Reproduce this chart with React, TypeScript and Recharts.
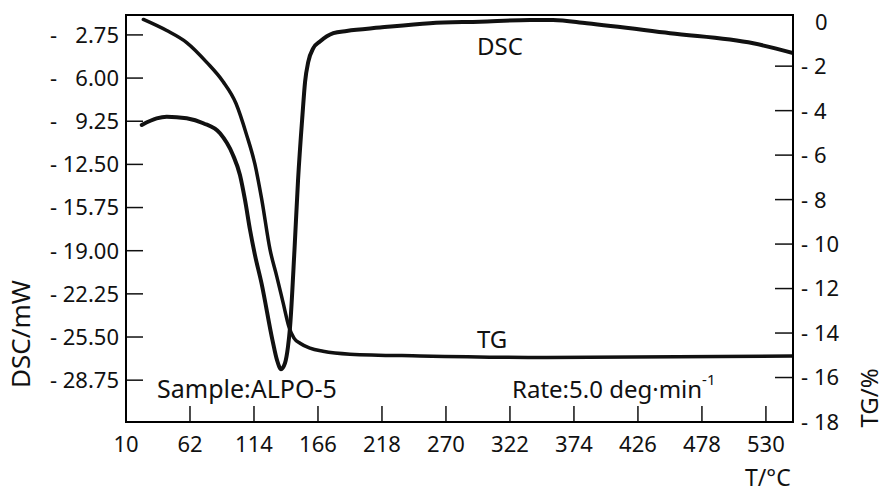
import React from 'react';
import { LineChart, Line, XAxis, YAxis } from 'recharts';

const W = 884;
const H = 493;
const INK = '#111';
const FONT = '"Noto Sans", "DejaVu Sans", sans-serif';

// plot box (left axis width, top margin, right axis width, x-axis height)
const M = { left: 126, top: 15, right: 91, bottom: 71 };

// axis ticks as printed
const tempTicks = [10, 62, 114, 166, 218, 270, 322, 374, 426, 478, 530];
const dscTicks = [-2.75, -6, -9.25, -12.5, -15.75, -19, -22.25, -25.5, -28.75];
const tgTicks = [0, -2, -4, -6, -8, -10, -12, -14, -16, -18];

const tempDomain = [10, 552];
const dscDomain = [-31.9, -1.25];
const tgDomain = [-18, 0.3];

// DSC trace (T / °C, DSC / mW)
const dscTemp = [
  22.8, 34.9, 43.1, 59.3, 72.8, 86.4, 96.9, 102.6, 106.7, 110.8, 114.8, 120.1,
  129.0, 132.7, 136.0, 139.2, 141.6, 143.3, 146.9, 149.8, 153.4, 155.5, 158.1,
  162.2, 167.6, 178.5, 189.3, 216.4, 257.0, 297.7, 338.3, 357.0, 384.4, 452.1,
  519.7, 552.0,
];
const dscValue = [
  -9.53, -9.03, -8.91, -9.03, -9.4, -10.16, -11.79, -13.3, -15.18, -17.44,
  -19.33, -21.44, -25.73, -27.24, -27.92, -27.47, -26.26, -24.75, -18.95,
  -13.68, -8.78, -6.29, -4.78, -3.75, -3.25, -2.62, -2.45, -2.2, -1.87, -1.75,
  -1.62, -1.62, -1.87, -2.62, -3.38, -4.11,
];

// TG trace (T / °C, TG / %)
const tgTemp = [
  24.1, 43.1, 59.3, 75.8, 88.8, 99.4, 107.9, 114.8, 120.3, 127.0, 132.5, 137.6,
  142.5, 146.5, 151.4, 159.5, 170.1, 192.0, 248.9, 351.9, 552.0,
];
const tgValue = [
  0.1, -0.4, -0.94, -1.84, -2.69, -3.68, -5.07, -6.42, -7.99, -10.24, -11.45,
  -12.62, -13.74, -14.23, -14.46, -14.68, -14.82, -14.95, -15.03, -15.1, -15.03,
];

const dscData = dscTemp.map((t, i) => ({ t, dsc: dscValue[i] }));
const tgData = tgTemp.map((t, i) => ({ t, tg: tgValue[i] }));

function TempTick({ x, y, payload }: any) {
  const v = payload.value;
  return (
    <g>
      {v !== tempTicks[0] && (
        <line x1={x} y1={y} x2={x} y2={y - 16} stroke={INK} strokeWidth={1.5} />
      )}
      <text x={x} y={y + 30} textAnchor="middle" fill={INK} fontSize={22} fontFamily={FONT}>
        {v}
      </text>
    </g>
  );
}

function DscTick({ x, y, payload }: any) {
  const v: number = payload.value;
  return (
    <g>
      <line x1={x} y1={y} x2={x + 17} y2={y} stroke={INK} strokeWidth={1.5} />
      <text y={y} dy="0.36em" fill={INK} fontSize={22} fontFamily={FONT}>
        <tspan x={x - 76} textAnchor="start">-</tspan>
        <tspan x={x - 7} textAnchor="end">{Math.abs(v).toFixed(2)}</tspan>
      </text>
    </g>
  );
}

function TgTick({ x, y, payload }: any) {
  const v: number = payload.value;
  if (v === 0) {
    return (
      <text x={x + 22} y={y} dy="0.36em" fill={INK} fontSize={22} fontFamily={FONT}>
        0
      </text>
    );
  }
  return (
    <g>
      <line x1={x} y1={y} x2={x - 18} y2={y} stroke={INK} strokeWidth={1.5} />
      <text y={y} dy="0.36em" fill={INK} fontSize={22} fontFamily={FONT}>
        <tspan x={x + 8}>-</tspan>
        <tspan x={x + 21}>{Math.abs(v)}</tspan>
      </text>
    </g>
  );
}

export default function App() {
  const axisLine = { stroke: INK, strokeWidth: 1.5 };
  return (
    <div style={{ position: 'absolute', left: 0, top: 0, width: W, height: H, background: '#fff' }}>
      <LineChart width={W} height={H} margin={{ top: M.top, right: 0, bottom: 0, left: 0 }}>
        <XAxis
          dataKey="t"
          type="number"
          domain={tempDomain}
          allowDataOverflow
          ticks={tempTicks}
          interval={0}
          height={M.bottom}
          tickSize={0}
          tickMargin={0}
          tickLine={false}
          axisLine={axisLine}
          tick={<TempTick />}
        />
        <YAxis
          yAxisId="dsc"
          orientation="left"
          type="number"
          domain={dscDomain}
          allowDataOverflow
          ticks={dscTicks}
          interval={0}
          width={M.left}
          tickSize={0}
          tickMargin={0}
          tickLine={false}
          axisLine={axisLine}
          tick={<DscTick />}
        />
        <YAxis
          yAxisId="tg"
          orientation="right"
          type="number"
          domain={tgDomain}
          allowDataOverflow
          ticks={tgTicks}
          interval={0}
          width={M.right}
          tickSize={0}
          tickMargin={0}
          tickLine={false}
          axisLine={axisLine}
          tick={<TgTick />}
        />
        <Line
          data={dscData}
          yAxisId="dsc"
          dataKey="dsc"
          type="monotone"
          stroke={INK}
          strokeWidth={4}
          strokeLinecap="round"
          dot={false}
          isAnimationActive={false}
        />
        <Line
          data={tgData}
          yAxisId="tg"
          dataKey="tg"
          type="monotone"
          stroke={INK}
          strokeWidth={3.5}
          strokeLinecap="round"
          dot={false}
          isAnimationActive={false}
        />
      </LineChart>
      <svg
        width={W}
        height={H}
        style={{ position: 'absolute', left: 0, top: 0, pointerEvents: 'none' }}
        fontFamily={FONT}
      >
        {/* plot frame (adds the top edge) */}
        <rect
          x={M.left}
          y={M.top}
          width={W - M.left - M.right}
          height={H - M.top - M.bottom}
          fill="none"
          stroke="#000"
          strokeWidth={2}
        />
        <g fill={INK}>
          <text x={477} y={55} fontSize={24}>DSC</text>
          <text x={477} y={348} fontSize={24}>TG</text>
          <text x={157} y={398} fontSize={25}>Sample:ALPO-5</text>
          <text x={512} y={398} fontSize={24}>
            Rate:5.0 deg·min
            <tspan dy={-13} fontSize={15}>-1</tspan>
          </text>
          <text x={745} y={486} fontSize={23}>T/°C</text>
          <text
            transform="translate(868 398) rotate(-90)"
            textAnchor="middle"
            dominantBaseline="central"
            fontSize={24}
          >
            TG/%
          </text>
          <text
            transform="translate(20 334) rotate(-90)"
            textAnchor="middle"
            dominantBaseline="central"
            fontSize={26}
          >
            DSC/mW
          </text>
        </g>
      </svg>
    </div>
  );
}
